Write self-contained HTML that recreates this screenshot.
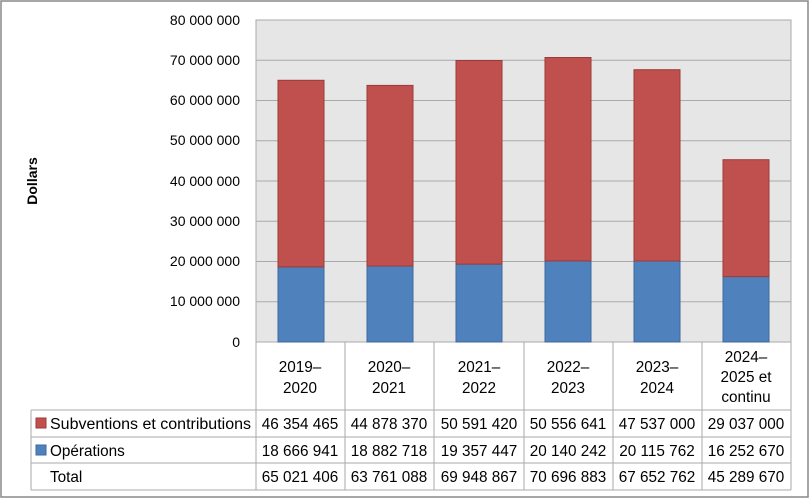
<!DOCTYPE html><html><head><style>body{margin:0;background:#fff}svg{display:block}text{font-family:"Liberation Sans",sans-serif;font-size:15.3px;fill:#000}.ax{font-size:14px}</style></head><body>
<svg width="810" height="500" viewBox="0 0 810 500">
<rect x="1" y="1" width="807" height="496" fill="#fff" stroke="#888" stroke-width="1.5"/>
<rect x="256" y="20" width="535" height="322" fill="#e6e6e6" stroke="#aaa"/>
<g stroke="#aaa" stroke-width="1">
<line x1="256" x2="791" y1="60.25" y2="60.25"/><line x1="256" x2="791" y1="100.5" y2="100.5"/><line x1="256" x2="791" y1="140.75" y2="140.75"/><line x1="256" x2="791" y1="181" y2="181"/><line x1="256" x2="791" y1="221.25" y2="221.25"/><line x1="256" x2="791" y1="261.5" y2="261.5"/><line x1="256" x2="791" y1="301.75" y2="301.75"/>
</g>
<g text-anchor="end" class="ax">
<text class="ax" x="240" y="25">80 000 000</text><text class="ax" x="240" y="65">70 000 000</text><text class="ax" x="240" y="105">60 000 000</text><text class="ax" x="240" y="145">50 000 000</text><text class="ax" x="240" y="186">40 000 000</text><text class="ax" x="240" y="226">30 000 000</text><text class="ax" x="240" y="266">20 000 000</text><text class="ax" x="240" y="306">10 000 000</text><text class="ax" x="240" y="347">0</text>
</g>
<text class="ax" transform="translate(37,181) rotate(-90)" text-anchor="middle" font-weight="bold">Dollars</text>
<g stroke-width="1">
<rect x="278" y="266.9" width="46" height="75.1" fill="#4f81bd" stroke="#3d6a9e"/><rect x="278" y="80.3" width="46" height="186.6" fill="#c0504d" stroke="#9b3b38"/>
<rect x="367" y="266" width="46" height="76" fill="#4f81bd" stroke="#3d6a9e"/><rect x="367" y="85.4" width="46" height="180.6" fill="#c0504d" stroke="#9b3b38"/>
<rect x="456" y="264.1" width="46" height="77.9" fill="#4f81bd" stroke="#3d6a9e"/><rect x="456" y="60.5" width="46" height="203.6" fill="#c0504d" stroke="#9b3b38"/>
<rect x="545" y="260.9" width="46" height="81.1" fill="#4f81bd" stroke="#3d6a9e"/><rect x="545" y="57.5" width="46" height="203.4" fill="#c0504d" stroke="#9b3b38"/>
<rect x="634" y="261" width="46" height="81" fill="#4f81bd" stroke="#3d6a9e"/><rect x="634" y="69.7" width="46" height="191.3" fill="#c0504d" stroke="#9b3b38"/>
<rect x="723" y="276.6" width="46" height="65.4" fill="#4f81bd" stroke="#3d6a9e"/><rect x="723" y="159.7" width="46" height="116.9" fill="#c0504d" stroke="#9b3b38"/>
</g>
<g stroke="#aaa" stroke-width="1" fill="none">
<line x1="256" y1="342" x2="256" y2="490"/><line x1="345" y1="342" x2="345" y2="490"/><line x1="434" y1="342" x2="434" y2="490"/><line x1="524" y1="342" x2="524" y2="490"/><line x1="613" y1="342" x2="613" y2="490"/><line x1="702" y1="342" x2="702" y2="490"/><line x1="791" y1="342" x2="791" y2="490"/>
<line x1="31" y1="410" x2="791" y2="410"/><line x1="31" y1="437" x2="791" y2="437"/><line x1="31" y1="463" x2="791" y2="463"/><line x1="31" y1="490" x2="791" y2="490"/><line x1="31" y1="410" x2="31" y2="490"/>
</g>
<g text-anchor="middle">
<text x="300" y="372">2019–</text><text x="300" y="393">2020</text>
<text x="389" y="372">2020–</text><text x="389" y="393">2021</text>
<text x="479" y="372">2021–</text><text x="479" y="393">2022</text>
<text x="568" y="372">2022–</text><text x="568" y="393">2023</text>
<text x="657" y="372">2023–</text><text x="657" y="393">2024</text>
<text x="746" y="362">2024–</text><text x="746" y="382">2025 et</text><text x="746" y="402">continu</text>
</g>
<rect x="36" y="418" width="10" height="10" fill="#c0504d" stroke="#9b3b38"/>
<rect x="36" y="445" width="10" height="10" fill="#4f81bd" stroke="#3d6a9e"/>
<text x="50" y="429" textLength="201" lengthAdjust="spacingAndGlyphs">Subventions et contributions</text><text x="50" y="456">Opérations</text><text x="50" y="482">Total</text>
<g text-anchor="middle">
<text x="300" y="429">46 354 465</text><text x="389" y="429">44 878 370</text><text x="479" y="429">50 591 420</text><text x="568" y="429">50 556 641</text><text x="657" y="429">47 537 000</text><text x="746" y="429">29 037 000</text>
<text x="300" y="456">18 666 941</text><text x="389" y="456">18 882 718</text><text x="479" y="456">19 357 447</text><text x="568" y="456">20 140 242</text><text x="657" y="456">20 115 762</text><text x="746" y="456">16 252 670</text>
<text x="300" y="482">65 021 406</text><text x="389" y="482">63 761 088</text><text x="479" y="482">69 948 867</text><text x="568" y="482">70 696 883</text><text x="657" y="482">67 652 762</text><text x="746" y="482">45 289 670</text>
</g>
</svg></body></html>
